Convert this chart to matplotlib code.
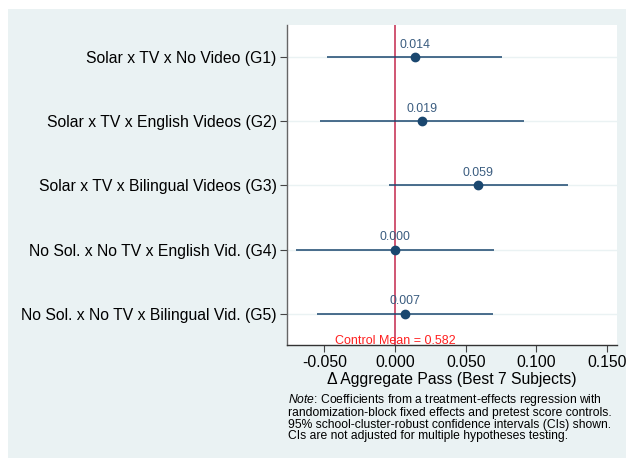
import matplotlib
matplotlib.use("Agg")
import matplotlib.pyplot as plt
from matplotlib.patches import Rectangle
from matplotlib.transforms import blended_transform_factory, offset_copy

plt.rcParams['font.family'] = ['Liberation Sans', 'DejaVu Sans']
plt.rcParams['mathtext.fontset'] = 'custom'
plt.rcParams['mathtext.rm'] = 'Liberation Sans'
plt.rcParams['mathtext.it'] = 'Liberation Sans:italic'

groups = [
    "Solar x TV x No Video (G1)",
    "Solar x TV x English Videos (G2)",
    "Solar x TV x Bilingual Videos (G3)",
    "No Sol. x No TV x English Vid. (G4)",
    "No Sol. x No TV x Bilingual Vid. (G5)",
]
estimates = [0.014, 0.019, 0.059, 0.000, 0.007]
ci_low = [-0.048, -0.053, -0.004, -0.070, -0.055]
ci_high = [0.076, 0.091, 0.122, 0.070, 0.069]
xticks = [-0.05, 0.0, 0.05, 0.10, 0.15]
control_mean = 0.582

navy = "#1a476f"
bg = "#eaf2f3"
W, H = 626, 458

fig = plt.figure(figsize=(W / 100, H / 100), dpi=100)
fig.patch.set_facecolor("white")
fig.patches.append(Rectangle((8 / W, 0), 1, 1 - 9 / H,
                             transform=fig.transFigure, facecolor=bg,
                             edgecolor="none", zorder=-10))

ax = fig.add_axes([287 / W, 1 - 345 / H, 330 / W, 320 / H])
ax.set_facecolor("white")

ypos = list(range(1, len(groups) + 1))
for y in ypos:
    ax.axhline(y, color=bg, lw=1.0, zorder=0)

ax.axvline(0, color="#c8385a", lw=1.2, zorder=1)

ax.hlines(ypos, ci_low, ci_high, color=navy, lw=1.1, zorder=2)
ax.plot(estimates, ypos, "o", color=navy, ms=6, zorder=3)
for x, y in zip(estimates, ypos):
    ax.annotate(f"{x:.3f}", (x, y), xytext=(0, 6.8), textcoords="offset points",
                ha="center", va="baseline", color="#3b5d80", fontsize=8.9)

cm_tr = offset_copy(blended_transform_factory(ax.transData, ax.transAxes),
                    fig=fig, x=0, y=1.5, units="dots")
ax.text(0, 0, f"Control Mean = {control_mean:.3f}", color="#ff2020",
        ha="center", va="baseline", fontsize=9, transform=cm_tr)

ax.set_xlim(-0.0764, 0.157)
ax.set_ylim(5.49, 0.495)
ax.set_yticks(ypos)
ax.set_yticklabels(groups, fontsize=11.3)
ax.set_xticks(xticks)
ax.set_xticklabels([f"{t:.3f}" for t in xticks], fontsize=11.3)
ax.tick_params(axis="both", direction="out", length=5, width=0.8,
               color="#444444", pad=2.5)
ax.set_xlabel("\u0394 Aggregate Pass (Best 7 Subjects)", fontsize=11.3,
              labelpad=1)

for side in ("top", "right"):
    ax.spines[side].set_visible(False)
ax.spines["left"].set_color("#666666")
ax.spines["bottom"].set_color("#333333")
ax.spines["left"].set_linewidth(1.0)
ax.spines["bottom"].set_linewidth(1.0)

note_lines = [
    r"$\it{Note}$: Coefficients from a treatment-effects regression with",
    "randomization-block fixed effects and pretest score controls.",
    "95% school-cluster-robust confidence intervals (CIs) shown.",
    "CIs are not adjusted for multiple hypotheses testing.",
]
fig.text(288 / W, 1 - 392 / H, "\n".join(note_lines), fontsize=8.7,
         ha="left", va="top", color="black", linespacing=0.92)

fig.savefig("out.png", dpi=100)
